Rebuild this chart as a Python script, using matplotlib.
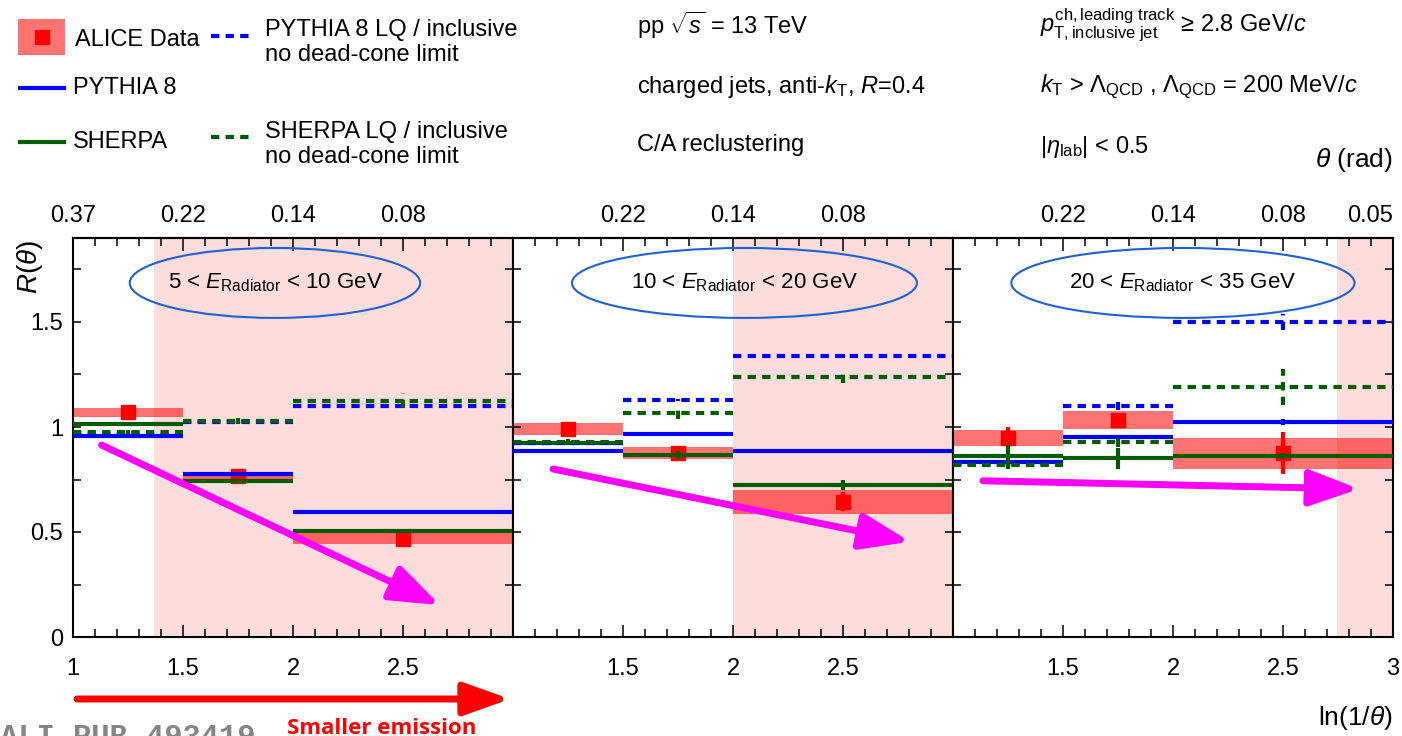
import numpy as np
import matplotlib
matplotlib.use('Agg')
import matplotlib.pyplot as plt
from matplotlib.patches import Ellipse, Rectangle

plt.rcParams['font.family'] = ['Liberation Sans', 'DejaVu Sans']
plt.rcParams['mathtext.fontset'] = 'custom'
plt.rcParams['mathtext.rm'] = 'Liberation Sans'
plt.rcParams['mathtext.it'] = 'Liberation Sans:italic'
plt.rcParams['mathtext.bf'] = 'Liberation Sans:bold'

# ln(1/theta) binning, identical in every radiator-energy interval
bin_edges = np.array([1.0, 1.5, 2.0, 3.0])
bin_centers = np.array([1.25, 1.75, 2.5])

energy_labels = [r'5 < $E_{\mathrm{Radiator}}$ < 10 GeV',
                 r'10 < $E_{\mathrm{Radiator}}$ < 20 GeV',
                 r'20 < $E_{\mathrm{Radiator}}$ < 35 GeV']
dead_cone_start = [1.37, 2.0, 2.745]

# measured ratio with stat and sys uncertainties
alice_val = [[1.07, 0.768, 0.467], [0.99, 0.878, 0.644], [0.948, 1.032, 0.874]]
alice_stat = [[0.012, 0.022, 0.04], [0.015, 0.02, 0.045], [0.05, 0.025, 0.1]]
alice_sys = [[0.022, 0.018, 0.026], [0.03, 0.028, 0.057], [0.038, 0.042, 0.072]]

# model curves
pythia = [[0.955, 0.776, 0.595], [0.884, 0.968, 0.886], [0.832, 0.952, 1.024]]
pythia_err = [[0.004, 0.005, 0.004], [0.004, 0.004, 0.004], [0.008, 0.01, 0.015]]
sherpa = [[1.012, 0.741, 0.506], [0.922, 0.868, 0.724], [0.862, 0.852, 0.862]]
sherpa_err = [[0.005, 0.01, 0.01], [0.01, 0.02, 0.022], [0.05, 0.05, 0.012]]
pythia_lq = [[0.96, 1.025, 1.102], [0.926, 1.128, 1.338], [0.825, 1.1, 1.5]]
pythia_lq_err = [[0.004, 0.004, 0.004], [0.004, 0.004, 0.008], [0.01, 0.02, 0.04]]
sherpa_lq = [[0.975, 1.03, 1.125], [0.93, 1.067, 1.238], [0.818, 0.93, 1.19]]
sherpa_lq_err = [[0.01, 0.015, 0.035], [0.012, 0.03, 0.03], [0.02, 0.025, 0.085]]

bottom_labels = [['1', '1.5', '2', '2.5', ''],
                 ['', '1.5', '2', '2.5', ''],
                 ['', '1.5', '2', '2.5', '3']]
top_labels = [['0.37', '0.22', '0.14', '0.08', ''],
              ['', '0.22', '0.14', '0.08', ''],
              ['', '0.22', '0.14', '0.08', '0.05']]

blue = '#0000ff'
green = '#005c00'
red = '#ff0000'
pink = '#fddcdc'
magenta = '#ff00ff'

fig = plt.figure(figsize=(14.02, 7.36), dpi=100)
W, H = 1402, 736

major_x = [1, 1.5, 2, 2.5, 3]
minor_x = np.round(np.arange(1.0, 3.001, 0.1), 2)

arrows = [((1.13, 0.914), (2.668, 0.152)),
          ((1.182, 0.80), (2.805, 0.454)),
          ((1.136, 0.744), (2.845, 0.705))]
ellipses = [(1.918, 1.686, 1.32), (2.052, 1.686, 1.568), (2.045, 1.686, 1.56)]


def model(ax, vals, errs, color, ls):
    ax.hlines(vals, bin_edges[:-1], bin_edges[1:], colors=color, lw=3,
              linestyles=ls, zorder=3)
    v = np.array(vals)
    e = np.array(errs)
    ax.vlines(bin_centers, v - e, v + e, colors=color, lw=3,
              linestyles=ls, zorder=3)


for i in range(3):
    left = (73 + 440 * i) / W
    ax = fig.add_axes([left, (H - 637) / H, 440 / W, (637 - 238) / H])
    ax.set_xlim(1, 3)
    ax.set_ylim(0, 1.9)

    ax.axvspan(dead_cone_start[i], 3, color=pink, lw=0, zorder=0)

    # data: systematic boxes, then points with stat errors
    val = np.array(alice_val[i])
    sys = np.array(alice_sys[i])
    ax.bar(bin_centers, 2 * sys, bottom=val - sys, width=np.diff(bin_edges),
           color=red, alpha=0.55, lw=0, zorder=1)
    ax.errorbar(bin_centers, val, yerr=alice_stat[i], fmt='s', color=red,
                ms=9.5, elinewidth=3, capsize=0, zorder=2)

    model(ax, pythia[i], pythia_err[i], blue, '-')
    model(ax, sherpa[i], sherpa_err[i], green, '-')
    model(ax, pythia_lq[i], pythia_lq_err[i], blue, (0, (2, 1.5)))
    model(ax, sherpa_lq[i], sherpa_lq_err[i], green, (0, (2, 1.5)))

    cx, cy, ew = ellipses[i]
    ax.add_patch(Ellipse((cx, cy), ew, 0.333, fill=False, ec='#2060d0',
                         lw=1.5, zorder=4))
    ax.text(cx, cy, energy_labels[i], ha='center', va='center', fontsize=16,
            zorder=5)

    (x0, y0), (x1, y1) = arrows[i]
    ax.annotate('', xy=(x1, y1), xytext=(x0, y0),
                arrowprops=dict(arrowstyle='-|>,head_length=1.5,head_width=0.55',
                                color=magenta, lw=5, mutation_scale=20,
                                shrinkA=0, shrinkB=0), zorder=6)

    # axes frame and ticks
    for s in ax.spines.values():
        s.set_linewidth(1.5)
    ax.set_xticks(major_x, bottom_labels[i])
    ax.set_xticks(minor_x, minor=True)
    ax.set_yticks([0, 0.5, 1, 1.5])
    ax.set_yticks([0.25, 0.75, 1.25, 1.75], minor=True)
    ax.tick_params(axis='x', which='both', direction='in', top=False,
                   labelsize=17, pad=15, width=1.1)
    ax.tick_params(axis='x', which='major', length=9)
    ax.tick_params(axis='x', which='minor', length=6)
    ax.tick_params(axis='y', which='both', direction='in', left=True,
                   right=True, length=6, width=1.1, labelsize=17, pad=7)
    if i == 0:
        ax.set_yticklabels(['0', '0.5', '1', '1.5'])
    else:
        ax.set_yticklabels([])

    top = ax.secondary_xaxis('top')
    top.set_xticks(major_x, top_labels[i])
    top.set_xticks(minor_x, minor=True)
    top.tick_params(which='both', direction='in', labelsize=17, pad=8,
                    width=1.1)
    top.tick_params(which='major', length=9)
    top.tick_params(which='minor', length=6)
    top.spines['top'].set_linewidth(1.5)
    # keep the last theta label inside the figure
    top.xaxis.get_majorticklabels()[-1].set_horizontalalignment('right')

# overlay in pixel units for legend, labels and annotations
lay = fig.add_axes([0, 0, 1, 1], zorder=10)
lay.set_xlim(0, W)
lay.set_ylim(H, 0)
lay.set_axis_off()
lay.patch.set_visible(False)

lay.add_patch(Rectangle((18, 19), 47, 36, color=red, alpha=0.55, lw=0))
lay.plot([42], [37], 's', color=red, ms=9.5)
lay.plot([20, 64], [88, 88], color=blue, lw=3)
lay.plot([20, 64], [142, 142], color=green, lw=3)
lay.plot([211, 250], [36, 36], color=blue, lw=3, ls=(0, (2, 1.5)))
lay.plot([211, 250], [137, 137], color=green, lw=3, ls=(0, (2, 1.5)))

fs = 17
lay.text(75, 40, 'ALICE Data', fontsize=fs, va='center')
lay.text(73, 88, 'PYTHIA 8', fontsize=fs, va='center')
lay.text(73, 142, 'SHERPA', fontsize=fs, va='center')
lay.text(265, 30, 'PYTHIA 8 LQ / inclusive', fontsize=fs, va='center')
lay.text(265, 55, 'no dead-cone limit', fontsize=fs, va='center')
lay.text(265, 132, 'SHERPA LQ / inclusive', fontsize=fs, va='center')
lay.text(265, 157, 'no dead-cone limit', fontsize=fs, va='center')

lay.text(637, 25, r'pp $\sqrt{s}$ = 13 TeV', fontsize=fs, va='center')
lay.text(637, 87, r'charged jets, anti-$k_{\mathrm{T}}$, $R$=0.4', fontsize=fs,
         va='center')
lay.text(637, 145, 'C/A reclustering', fontsize=fs, va='center')
lay.text(1040, 25,
         r'$p_{\mathrm{T,inclusive\ jet}}^{\mathrm{ch,leading\ track}}$ ≥ 2.8 GeV/$c$',
         fontsize=fs, va='center')
lay.text(1040, 87,
         r'$k_{\mathrm{T}}$ > $\Lambda_{\mathrm{QCD}}$ , $\Lambda_{\mathrm{QCD}}$ = 200 MeV/$c$',
         fontsize=fs, va='center')
lay.text(1040, 147, r'$|\eta_{\mathrm{lab}}|$ < 0.5', fontsize=fs, va='center')
lay.text(1393, 160, r'$\theta$ (rad)', fontsize=19, ha='right', va='center')
lay.text(1393, 718, r'ln(1/$\theta$)', fontsize=19, ha='right', va='center')
lay.text(30, 267, r'$R(\theta)$', fontsize=20, rotation=90, ha='center',
         va='center')

lay.annotate('', xy=(510, 699), xytext=(77, 699),
             arrowprops=dict(arrowstyle='-|>,head_length=1.4,head_width=0.5',
                             color=red, lw=5, mutation_scale=20,
                             shrinkA=0, shrinkB=0), annotation_clip=False)
lay.text(287, 734, 'Smaller emission', fontsize=16, color=red,
         fontfamily='Open Sans', fontweight='bold', va='baseline', clip_on=False)
lay.text(0, 746, 'ALI-PUB-493419', fontsize=22, color='#858585',
         fontfamily='Liberation Mono', fontweight='bold', va='baseline',
         clip_on=False)

fig.savefig('out.png', dpi=100, facecolor='white')
